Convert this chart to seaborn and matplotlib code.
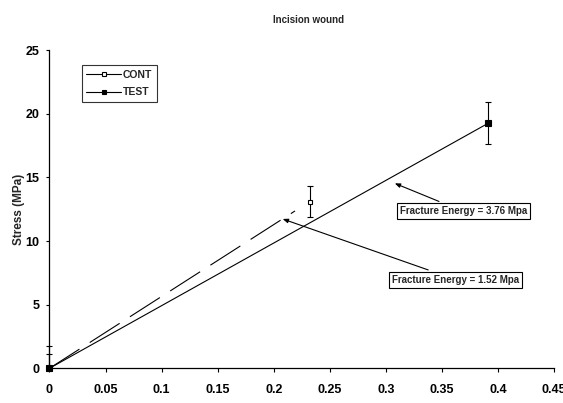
import matplotlib
matplotlib.use('Agg')
import matplotlib.pyplot as plt
from matplotlib.lines import Line2D
import seaborn as sns

# Data
cont_x = [0, 0.232]
cont_y = [0, 13.1]
cont_err_low = [0, 1.2]
cont_err_high = [1.15, 1.2]

test_x = [0, 0.391]
test_y = [0, 19.25]
test_err_low = [0, 1.65]
test_err_high = [1.75, 1.65]

# dashed trend line for CONT
trend_x = [0, 0.219]
trend_y = [0, 12.37]

x_ticks = [0, 0.05, 0.1, 0.15, 0.2, 0.25, 0.3, 0.35, 0.4, 0.45]
x_tick_labels = ['0', '0.05', '0.1', '0.15', '0.2', '0.25', '0.3', '0.35', '0.4', '0.45']
y_ticks = [0, 5, 10, 15, 20, 25]

sns.set_theme(style='ticks')
plt.rcParams['font.family'] = ['Liberation Sans', 'DejaVu Sans']
plt.rcParams['font.weight'] = 'bold'

fig = plt.figure(figsize=(5.63, 4.03), dpi=100)
ax = fig.add_axes([0.0879, 0.0861, 0.8961, 0.7891])

# Lines
sns.lineplot(x=test_x, y=test_y, color='black', lw=0.8, ax=ax, legend=False)
sns.lineplot(x=trend_x, y=trend_y, color='black', lw=0.8, ax=ax, legend=False)
ax.lines[-1].set_dashes([32, 11])

# Markers with error bars
ax.errorbar(cont_x, cont_y, yerr=[cont_err_low, cont_err_high], fmt='s', color='black',
            mfc='white', mec='black', ms=3.5, mew=0.8, elinewidth=0.8, capsize=2,
            capthick=0.8, clip_on=False, zorder=4)
ax.errorbar(test_x, test_y, yerr=[test_err_low, test_err_high], fmt='s', color='black',
            mfc='black', mec='black', ms=4, mew=0.8, elinewidth=0.8, capsize=2,
            capthick=0.8, clip_on=False, zorder=5)

ax.set_xlim(0, 0.45)
ax.set_ylim(0, 25)
ax.set_xticks(x_ticks)
ax.set_xticklabels(x_tick_labels)
ax.set_yticks(y_ticks)
ax.tick_params(axis='both', labelsize=9, width=0.8, colors='black')
ax.tick_params(axis='x', length=3, pad=8)
ax.tick_params(axis='y', length=2.2, pad=5)
for lbl in ax.get_xticklabels() + ax.get_yticklabels():
    lbl.set_fontweight('bold')
ax.set_ylabel('Stress (MPa)', fontsize=8.5, fontweight='bold')
ax.yaxis.set_label_coords(-0.048, 0.5)

sns.despine(ax=ax)
for s in ['left', 'bottom']:
    ax.spines[s].set_color('black')
    ax.spines[s].set_linewidth(0.9)

fig.text(0.548, 0.951, 'Incision wound', ha='center', va='center', fontsize=7,
         fontweight='bold')

# Annotations
box = dict(boxstyle='square,pad=0.3', fc='white', ec='black', lw=0.8)
arrow = dict(arrowstyle='-|>,head_length=0.45,head_width=0.18', color='black',
             lw=0.8, shrinkA=3, shrinkB=0)
ax.annotate('Fracture Energy = 3.76 Mpa', xy=(0.308, 14.54), xytext=(0.369, 12.34),
            ha='center', va='center', fontsize=7, fontweight='bold', bbox=box,
            arrowprops=arrow)
ax.annotate('Fracture Energy = 1.52 Mpa', xy=(0.208, 11.74), xytext=(0.3625, 6.97),
            ha='center', va='center', fontsize=7, fontweight='bold', bbox=box,
            arrowprops=arrow)

# Legend
handles = [
    Line2D([], [], color='black', lw=0.8, marker='s', ms=3.5, mfc='white', mec='black', mew=0.8),
    Line2D([], [], color='black', lw=0.8, marker='s', ms=3.5, mfc='black', mec='black', mew=0.8),
]
leg = ax.legend(handles, ['CONT', 'TEST'], loc='upper left', bbox_to_anchor=(0.064, 0.954),
                borderaxespad=0, frameon=True, fancybox=False,
                handlelength=3.3, handletextpad=0.2, labelspacing=0.75,
                borderpad=0.45, prop={'weight': 'bold', 'size': 7.5})
leg.get_frame().set_edgecolor('black')
leg.get_frame().set_linewidth(0.8)

fig.savefig('out.png', dpi=100, facecolor='white')
